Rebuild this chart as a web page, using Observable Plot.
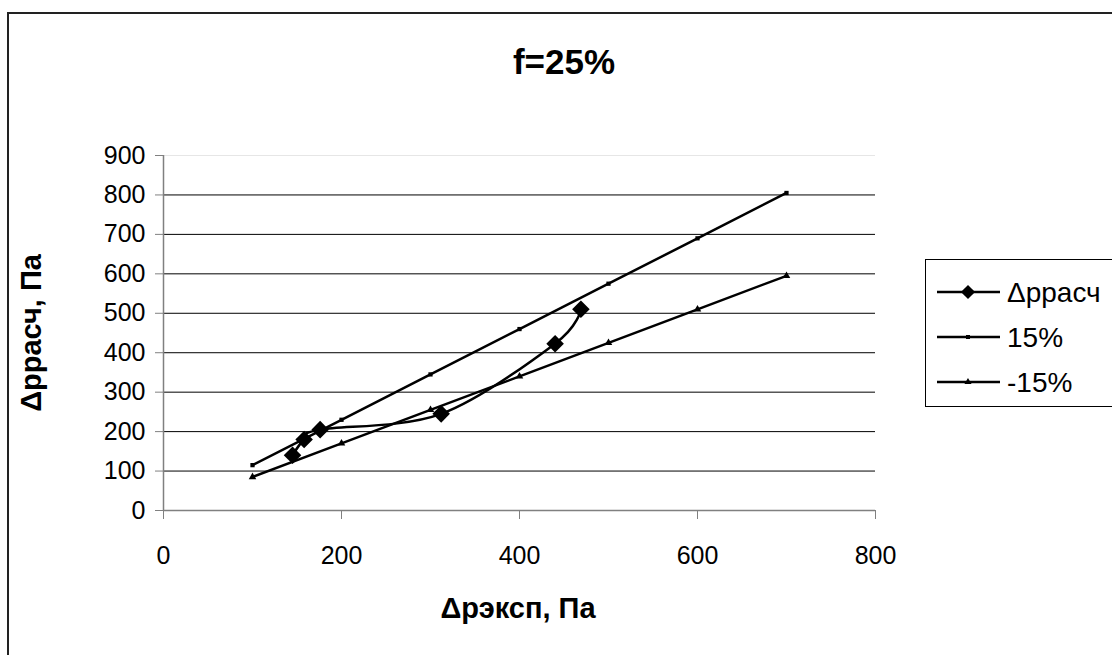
<!DOCTYPE html>
<html>
<head>
<meta charset="utf-8">
<script src="https://cdn.jsdelivr.net/npm/d3@7"></script>
<script src="https://cdn.jsdelivr.net/npm/@observablehq/plot@0.6"></script>
<style>
  html, body { margin: 0; padding: 0; background: #fff; }
  svg { display: block; }
</style>
</head>
<body>
<div id="chart"></div>
<script>
// ---- data ----
const xTicks = [0, 200, 400, 600, 800];
const yTicks = [0, 100, 200, 300, 400, 500, 600, 700, 800, 900];

const pctX = [100, 200, 300, 400, 500, 600, 700];
const plus15 = [115, 230, 345, 460, 575, 690, 805];
const minus15 = [85, 170, 255, 340, 425, 510, 595];

const calcX = [145, 158, 176, 312, 440, 469];
const calcY = [140, 180, 205, 245, 423, 510];

const seriesNames = ["\u0394\u0440\u0440\u0430\u0441\u0447", "15%", "-15%"];
const titleText = "f=25%";
const xLabel = "\u0394\u0440\u044d\u043a\u0441\u043f, \u041f\u0430";
const yLabel = "\u0394\u0440\u0440\u0430\u0441\u0447, \u041f\u0430";

// ---- tables ----
const calc = calcX.map((x, i) => ({x, y: calcY[i]}));
const p15 = pctX.map((x, i) => ({x, y: plus15[i]}));
const m15 = pctX.map((x, i) => ({x, y: minus15[i]}));

const W = 1112, H = 655;
const font = "'Liberation Sans', Arial, sans-serif";

const chart = Plot.plot({
  width: W,
  height: H,
  marginLeft: 163,
  marginRight: 237,
  marginTop: 155,
  marginBottom: 145,
  style: {fontFamily: font, background: "#fff", color: "#000"},
  x: {domain: [0, 800]},
  y: {domain: [0, 900]},
  marks: [
    Plot.ruleY(yTicks.filter(d => d > 0 && d < 900), {stroke: "#000", strokeWidth: 1}),
    Plot.ruleY([900], {stroke: "#e6e6e6", strokeWidth: 1}),
    Plot.axisY({ticks: yTicks, tickSize: 8, tickPadding: 10, fontSize: 25, stroke: "#808080", fill: "#000", label: null, tickFormat: d => String(d)}),
    Plot.axisX({ticks: xTicks, tickSize: 9, tickPadding: 27, fontSize: 25, stroke: "#808080", fill: "#000", label: null, tickFormat: d => String(d)}),
    Plot.ruleX([0], {stroke: "#808080", strokeWidth: 1.5}),
    Plot.ruleY([0], {stroke: "#808080", strokeWidth: 1.5}),
    Plot.line(p15, {x: "x", y: "y", stroke: "#000", strokeWidth: 2.5}),
    Plot.dot(p15, {x: "x", y: "y", symbol: "square", r: 2.4, fill: "#000"}),
    Plot.line(m15, {x: "x", y: "y", stroke: "#000", strokeWidth: 2.5}),
    Plot.dot(m15, {x: "x", y: "y", symbol: "triangle", r: 2.8, fill: "#000"}),
    Plot.line(calc, {x: "x", y: "y", stroke: "#000", strokeWidth: 2.5, curve: "cardinal"}),
    Plot.dot(calc, {x: "x", y: "y", symbol: "square", r: 7, rotate: 45, fill: "#000"})
  ]
});

document.getElementById("chart").appendChild(chart);

// ---- decorations: border, title, axis titles, legend ----
const svg = d3.select(chart);

svg.append("path")
  .attr("d", `M8,${H + 5}V13H${W + 5}`)
  .attr("fill", "none").attr("stroke", "#222").attr("stroke-width", 2);

svg.append("text")
  .attr("x", 564).attr("y", 74)
  .attr("text-anchor", "middle")
  .attr("font-family", font).attr("font-weight", "bold").attr("font-size", 35)
  .text(titleText);

svg.append("text")
  .attr("x", 518).attr("y", 618)
  .attr("text-anchor", "middle")
  .attr("font-family", font).attr("font-weight", "bold").attr("font-size", 29)
  .text(xLabel);

svg.append("text")
  .attr("transform", "translate(41,333) rotate(-90)")
  .attr("text-anchor", "middle")
  .attr("font-family", font).attr("font-weight", "bold").attr("font-size", 29)
  .text(yLabel);

// legend
const lg = svg.append("g");
lg.append("rect")
  .attr("x", 925.5).attr("y", 259.5).attr("width", 200).attr("height", 147)
  .attr("fill", "#fff").attr("stroke", "#000").attr("stroke-width", 1);

const rowsY = [292, 337, 382];
const symbols = [
  {type: d3.symbolSquare, size: 10 * 10, rot: 45},
  {type: d3.symbolSquare, size: 4 * 4, rot: 0},
  {type: d3.symbolTriangle, size: 22, rot: 0}
];
seriesNames.forEach((name, i) => {
  const y = rowsY[i];
  lg.append("line").attr("x1", 937).attr("x2", 1000).attr("y1", y).attr("y2", y)
    .attr("stroke", "#000").attr("stroke-width", 2.5);
  lg.append("path")
    .attr("d", d3.symbol().type(symbols[i].type).size(symbols[i].size)())
    .attr("transform", `translate(968,${y}) rotate(${symbols[i].rot})`)
    .attr("fill", "#000");
  lg.append("text")
    .attr("x", 1007).attr("y", y + 10)
    .attr("text-anchor", "start")
    .attr("font-family", font).attr("font-size", 28)
    .text(name);
});
</script>
</body>
</html>
